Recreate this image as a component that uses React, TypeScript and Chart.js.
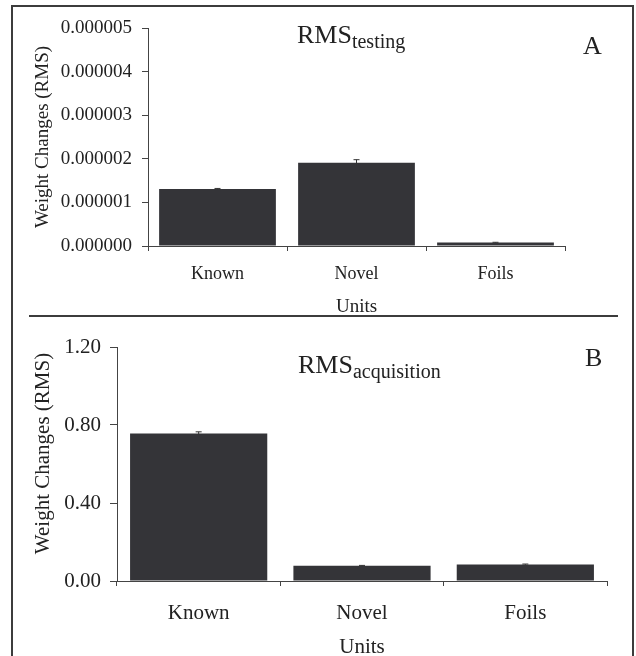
import React, { useEffect, useRef } from 'react';
import { Chart, registerables } from 'chart.js';

Chart.register(...registerables);

const categories = ['Known', 'Novel', 'Foils'];

const testingValues = [1.31e-6, 1.91e-6, 0.08e-6];
const testingErrors = [0.01e-6, 0.07e-6, 0.005e-6];
const testingTicks = [0, 1e-6, 2e-6, 3e-6, 4e-6, 5e-6];
const testingTickLabels = ['0.000000', '0.000001', '0.000002', '0.000003', '0.000004', '0.000005'];

const acquisitionValues = [0.757, 0.078, 0.085];
const acquisitionErrors = [0.008, 0.002, 0.002];
const acquisitionTicks = [0, 0.4, 0.8, 1.2];
const acquisitionTickLabels = ['0.00', '0.40', '0.80', '1.20'];

const yTitle = 'Weight Changes (RMS)';
const xTitle = 'Units';

const FONT = '"Liberation Serif", "Times New Roman", serif';
const INK = '#222222';
const AXIS = '#444444';
const BAR = '#343438';

const errorBarPlugin = {
  id: 'errorBars',
  afterDatasetsDraw(chart: any) {
    const ctx = chart.ctx;
    const y = chart.scales.y;
    chart.data.datasets.forEach((ds: any, di: number) => {
      const meta = chart.getDatasetMeta(di);
      const errs: number[] = ds.errors || [];
      meta.data.forEach((bar: any, i: number) => {
        const v = ds.data[i];
        const e = errs[i] || 0;
        const top = y.getPixelForValue(v + e);
        const bot = y.getPixelForValue(Math.max(0, v - e));
        ctx.save();
        ctx.strokeStyle = '#333333';
        ctx.lineWidth = 1;
        ctx.beginPath();
        ctx.moveTo(bar.x, top);
        ctx.lineTo(bar.x, bot);
        ctx.moveTo(bar.x - 3, top);
        ctx.lineTo(bar.x + 3, top);
        ctx.stroke();
        ctx.restore();
      });
    });
  },
};

type PanelProps = {
  top: number;
  height: number;
  values: number[];
  errors: number[];
  ticks: number[];
  tickLabels: string[];
  yMax: number;
  padTop: number;
  padRight: number;
  yWidth: number;
  xHeight: number;
  tickFont: number;
  catFont: number;
  titleFont: number;
  yTitlePad: number;
  yTickLen: number;
  yTickPad: number;
  xLabelPad: number;
  xTitlePad: number;
  yTitleText: string;
};

function Panel(p: PanelProps) {
  const ref = useRef<HTMLCanvasElement>(null);
  useEffect(() => {
    if (!ref.current) return;
    const chart = new Chart(ref.current, {
      type: 'bar',
      data: {
        labels: categories,
        datasets: [
          {
            data: p.values,
            backgroundColor: BAR,
            borderWidth: 0,
            barPercentage: 0.84,
            categoryPercentage: 1,
            errors: p.errors,
          } as any,
        ],
      },
      options: {
        responsive: false,
        animation: false,
        devicePixelRatio: 1,
        layout: { padding: { top: p.padTop, right: p.padRight, left: 0, bottom: 0 } },
        plugins: { legend: { display: false }, tooltip: { enabled: false }, title: { display: false } },
        scales: {
          x: {
            offset: true,
            grid: {
              display: true,
              offset: true,
              drawOnChartArea: false,
              drawTicks: true,
              tickLength: 5,
              color: AXIS,
              lineWidth: 1,
            },
            border: { display: true, color: AXIS, width: 1 },
            ticks: { color: INK, font: { family: FONT, size: p.catFont }, padding: p.xLabelPad, maxRotation: 0 },
            title: {
              display: true,
              text: xTitle,
              color: INK,
              font: { family: FONT, size: p.titleFont },
              padding: { top: 0, bottom: p.xTitlePad },
            },
            afterFit: (s: any) => {
              s.height = p.xHeight;
            },
          },
          y: {
            min: 0,
            max: p.yMax,
            grid: {
              display: true,
              drawOnChartArea: false,
              drawTicks: true,
              tickLength: p.yTickLen,
              color: AXIS,
              lineWidth: 1,
            },
            border: { display: true, color: AXIS, width: 1 },
            afterBuildTicks: (s: any) => {
              s.ticks = p.ticks.map((v) => ({ value: v }));
            },
            ticks: {
              color: INK,
              font: { family: FONT, size: p.tickFont },
              padding: p.yTickPad,
              callback: (_v: any, i: number) => p.tickLabels[i],
            },
            title: {
              display: true,
              text: p.yTitleText,
              color: INK,
              font: { family: FONT, size: p.titleFont },
              padding: { top: p.yTitlePad, bottom: 0 },
            },
            afterFit: (s: any) => {
              s.width = p.yWidth;
            },
          },
        },
      },
      plugins: [errorBarPlugin],
    });
    return () => chart.destroy();
  }, []);
  return (
    <canvas
      ref={ref}
      width={636}
      height={p.height}
      style={{ position: 'absolute', left: 0, top: p.top, width: 636, height: p.height }}
    />
  );
}

export default function App() {
  const line = '#3c3c3c';
  const titleStyle: React.CSSProperties = {
    position: 'absolute',
    fontFamily: FONT,
    fontSize: 26,
    lineHeight: '25px',
    color: INK,
    whiteSpace: 'nowrap',
    zIndex: 3,
  };
  const subStyle: React.CSSProperties = { fontSize: 20, position: 'relative', top: 5 };
  return (
    <div
      style={{
        position: 'absolute',
        left: 0,
        top: 0,
        width: 636,
        height: 656,
        overflow: 'hidden',
        background: '#ffffff',
      }}
    >
      <Panel
        top={0}
        height={330}
        values={testingValues}
        errors={testingErrors}
        ticks={testingTicks}
        tickLabels={testingTickLabels}
        yMax={5e-6}
        padTop={28}
        padRight={71}
        yWidth={148}
        xHeight={84}
        tickFont={19}
        catFont={18}
        titleFont={19}
        yTitlePad={32}
        yTickLen={6}
        yTickPad={10}
        xLabelPad={12}
        xTitlePad={12}
        yTitleText={yTitle}
      />
      <Panel
        top={316}
        height={360}
        values={acquisitionValues}
        errors={acquisitionErrors}
        ticks={acquisitionTicks}
        tickLabels={acquisitionTickLabels}
        yMax={1.2}
        padTop={31}
        padRight={29}
        yWidth={117}
        xHeight={95}
        tickFont={21}
        catFont={21}
        titleFont={21}
        yTitlePad={31}
        yTickLen={7}
        yTickPad={9}
        xLabelPad={15}
        xTitlePad={16}
        yTitleText={'    ' + yTitle}
      />
      <div
        style={{
          position: 'absolute',
          left: 11,
          top: 5,
          width: 623,
          height: 720,
          border: `2px solid ${line}`,
          boxSizing: 'border-box',
          zIndex: 2,
          pointerEvents: 'none',
        }}
      />
      <div style={{ position: 'absolute', left: 29, top: 315, width: 589, height: 2, background: line, zIndex: 2 }} />
      <div style={{ ...titleStyle, left: 297, top: 22 }}>
        RMS<span style={subStyle}>testing</span>
      </div>
      <div style={{ ...titleStyle, left: 583, top: 33 }}>A</div>
      <div style={{ ...titleStyle, left: 298, top: 352 }}>
        RMS<span style={subStyle}>acquisition</span>
      </div>
      <div style={{ ...titleStyle, left: 585, top: 345 }}>B</div>
    </div>
  );
}
